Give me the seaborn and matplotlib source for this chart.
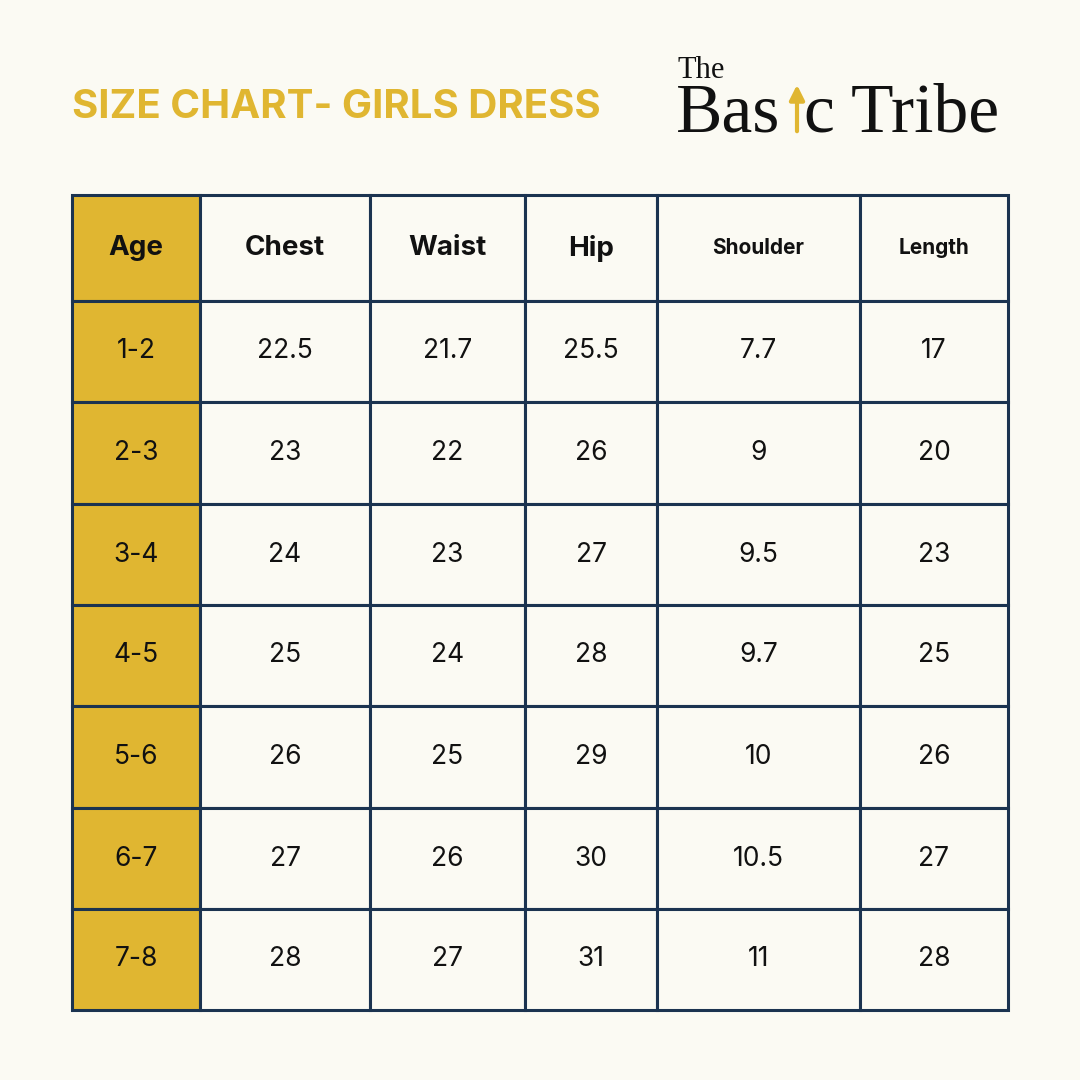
import matplotlib
matplotlib.use("Agg")
import matplotlib.pyplot as plt
from matplotlib.patches import Rectangle
import seaborn as sns

# ── Data ──────────────────────────────────────────────────────────────
ages      = ["1-2", "2-3", "3-4", "4-5", "5-6", "6-7", "7-8"]
chest     = ["22.5", "23", "24", "25", "26", "27", "28"]
waist     = ["21.7", "22", "23", "24", "25", "26", "27"]
hip       = ["25.5", "26", "27", "28", "29", "30", "31"]
shoulder  = ["7.7", "9", "9.5", "9.7", "10", "10.5", "11"]
length    = ["17", "20", "23", "25", "26", "27", "28"]
headers   = ["Age", "Chest", "Waist", "Hip", "Shoulder", "Length"]

# ── Layout / style ────────────────────────────────────────────────────
BG, GOLD, NAVY, INK = "#FBFAF3", "#E0B631", "#1B3350", "#111111"
col_edges = [72, 200, 370, 525, 657, 860, 1008]
row_edges = [195, 301, 402, 504, 605, 706, 808, 909, 1010]
head_sizes = [20, 20, 20, 20, 15, 15]

sns.set_theme(style="white")
plt.rcParams["font.family"] = ["Inter", "DejaVu Sans"]

fig = plt.figure(figsize=(10.8, 10.8), dpi=100, facecolor=BG)
ax = fig.add_axes([0, 0, 1, 1])
ax.set_xlim(0, 1080)
ax.set_ylim(1080, 0)
ax.axis("off")
ax.set_facecolor(BG)

columns = [ages, chest, waist, hip, shoulder, length]
for c, (x0, x1) in enumerate(zip(col_edges[:-1], col_edges[1:])):
    xc = (x0 + x1) / 2
    for r, (y0, y1) in enumerate(zip(row_edges[:-1], row_edges[1:])):
        fill = GOLD if c == 0 else BG
        ax.add_patch(Rectangle((x0, y0), x1 - x0, y1 - y0, facecolor=fill,
                               edgecolor=NAVY, linewidth=2.2))
        yc = (y0 + y1) / 2
        if r == 0:
            ax.text(xc, yc, headers[c], ha="center", va="center",
                    fontsize=head_sizes[c], fontweight="bold", color=INK)
        else:
            ax.text(xc, yc, columns[c][r - 1], ha="center", va="center",
                    fontsize=19, color=INK)

# Title
ax.text(72, 107, "SIZE CHART- GIRLS DRESS", ha="left", va="center",
        fontsize=29, fontweight="bold", color=GOLD)

# Logo
serif = ["Liberation Serif", "DejaVu Serif"]
ax.text(678, 70, "The", ha="left", va="center", fontsize=22, family=serif, color=INK)
ax.text(676, 115, "Bas", ha="left", va="center", fontsize=50, family=serif, color=INK)
ax.annotate("", xy=(797, 82), xytext=(797, 134),
            arrowprops=dict(arrowstyle="-|>", color=GOLD, lw=3, mutation_scale=22))
ax.text(804, 115, "c Tribe", ha="left", va="center", fontsize=50, family=serif, color=INK)

fig.savefig("out.png", dpi=100, facecolor=BG)
